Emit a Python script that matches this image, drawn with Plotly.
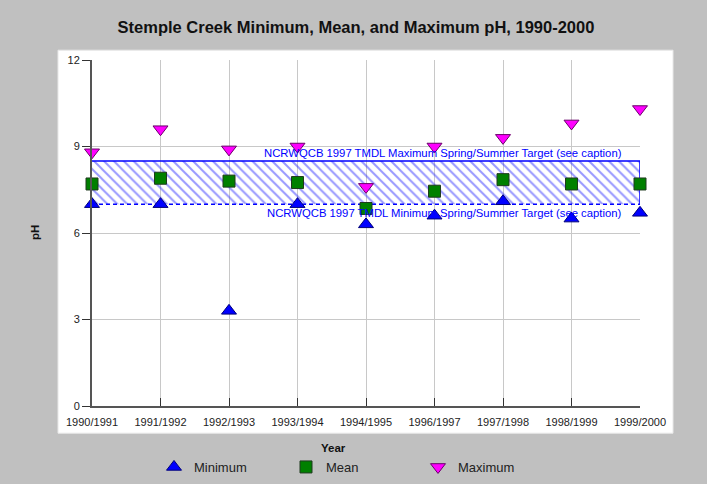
import plotly.graph_objects as go

# valores
years = ["1990/1991", "1991/1992", "1992/1993", "1993/1994", "1994/1995",
         "1996/1997", "1997/1998", "1998/1999", "1999/2000"]
ph_min = [7.0, 7.0, 3.3, 7.0, 6.3, 6.6, 7.1, 6.5, 6.7]
ph_mean = [7.7, 7.9, 7.8, 7.75, 6.85, 7.45, 7.85, 7.7, 7.7]
ph_max = [8.8, 9.6, 8.9, 9.0, 7.6, 9.0, 9.3, 9.8, 10.3]
target_low = 7.0
target_high = 8.5
y_ticks = [0, 3, 6, 9, 12]

blue = "#0000ff"
font = "Liberation Sans, Arial, sans-serif"

fig = go.Figure()

# faixa alvo hachurada
fig.add_trace(go.Scatter(
    x=[years[0], years[-1], years[-1], years[0], years[0]],
    y=[target_high, target_high, target_low, target_low, target_high],
    mode="lines", fill="toself", line=dict(width=0),
    fillcolor="rgba(0,0,0,0)",
    fillpattern=dict(shape="\\", fgcolor="#3030ff", bgcolor="rgba(255,255,255,0)", size=7, solidity=0.28),
    showlegend=False, hoverinfo="skip"))
fig.add_trace(go.Scatter(
    x=[years[0], years[-1], years[-1]], y=[target_high, target_high, target_low],
    mode="lines", line=dict(color=blue, width=1.5), showlegend=False, hoverinfo="skip"))
fig.add_trace(go.Scatter(
    x=[years[0], years[-1]], y=[target_low, target_low],
    mode="lines", line=dict(color=blue, width=1.5, dash="4px,3px"), showlegend=False, hoverinfo="skip"))

fig.add_trace(go.Scatter(
    x=years, y=ph_min, mode="markers", name="Minimum", cliponaxis=False,
    marker=dict(symbol="triangle-up", size=13, color=blue, line=dict(color="#00007a", width=1))))
fig.add_trace(go.Scatter(
    x=years, y=ph_mean, mode="markers", name="Mean", cliponaxis=False,
    marker=dict(symbol="square", size=12, color="#008000", line=dict(color="#1f3a1f", width=1))))
fig.add_trace(go.Scatter(
    x=years, y=ph_max, mode="markers", name="Maximum", cliponaxis=False,
    marker=dict(symbol="triangle-down", size=13, color="#ff00ff", line=dict(color="#6a006a", width=1))))

fig.add_annotation(x=years[-1], y=target_high, xref="x", yref="y", xanchor="right", yanchor="bottom",
                   xshift=-16, yshift=0, showarrow=False,
                   text="NCRWQCB 1997 TMDL Maximum Spring/Summer Target (see caption)",
                   font=dict(family=font, size=11.3, color=blue))
fig.add_annotation(x=years[-1], y=target_low, xref="x", yref="y", xanchor="right", yanchor="top",
                   xshift=-16, yshift=-1, showarrow=False,
                   text="NCRWQCB 1997 TMDL Minimum Spring/Summer Target (see caption)",
                   font=dict(family=font, size=11.3, color=blue))

# títulos dos eixos
fig.add_annotation(x=(35 - 92) / 548, y=0.5, xref="paper", yref="paper", textangle=-90,
                   xanchor="center", yanchor="middle",
                   text="<b>pH</b>", showarrow=False, font=dict(family=font, size=11.5, color="#111"))
fig.add_annotation(x=(333 - 92) / 548, y=(405.8 - 448) / 346, xref="paper", yref="paper",
                   xanchor="center", yanchor="middle",
                   text="<b>Year</b>", showarrow=False, font=dict(family=font, size=11.5, color="#111"))

# painel branco
fig.add_shape(type="rect", xref="paper", yref="paper", layer="below",
              x0=(58 - 92) / 548, x1=(673 - 92) / 548,
              y0=(405.8 - 433) / 346, y1=(405.8 - 50) / 346,
              fillcolor="white", line=dict(color="#e8e8e8", width=1))

fig.update_layout(
    width=707, height=484,
    margin=dict(l=92, r=67, t=60, b=78),
    paper_bgcolor="#c0c0c0",
    plot_bgcolor="white",
    title=dict(text="<b>Stemple Creek Minimum, Mean, and Maximum pH, 1990-2000</b>",
               x=356 / 707, xanchor="center", y=1 - 27 / 484, yanchor="middle",
               font=dict(family=font, size=16.5, color="#111")),
    font=dict(family=font, size=11, color="#222"),
    showlegend=True,
    legend=dict(orientation="h", x=(154 - 92) / 548, y=1 - 467 / 484, yref="container",
                xanchor="left", yanchor="middle", bgcolor="rgba(0,0,0,0)",
                font=dict(family=font, size=13, color="#222"),
                entrywidth=87, entrywidthmode="pixels", itemwidth=30),
    xaxis=dict(type="category", categoryorder="array", categoryarray=years,
               range=[0, len(years) - 1], showgrid=True, gridcolor="#c8c8c8",
               showline=True, linecolor="#555", linewidth=2, ticks="inside", ticklen=8,
               tickcolor="#333", tickfont=dict(size=11), ticklabelstandoff=5, zeroline=False),
    yaxis=dict(range=[0, 12], tickvals=y_ticks, showgrid=True, gridcolor="#c8c8c8",
               showline=True, linecolor="#555", linewidth=2, ticks="outside", ticklen=8,
               tickcolor="#333", tickfont=dict(size=11), zeroline=False),
)

fig.write_html("out.html", config={"displayModeBar": False},
               post_script="document.body.style.margin='0';document.body.style.background='#c0c0c0';")
